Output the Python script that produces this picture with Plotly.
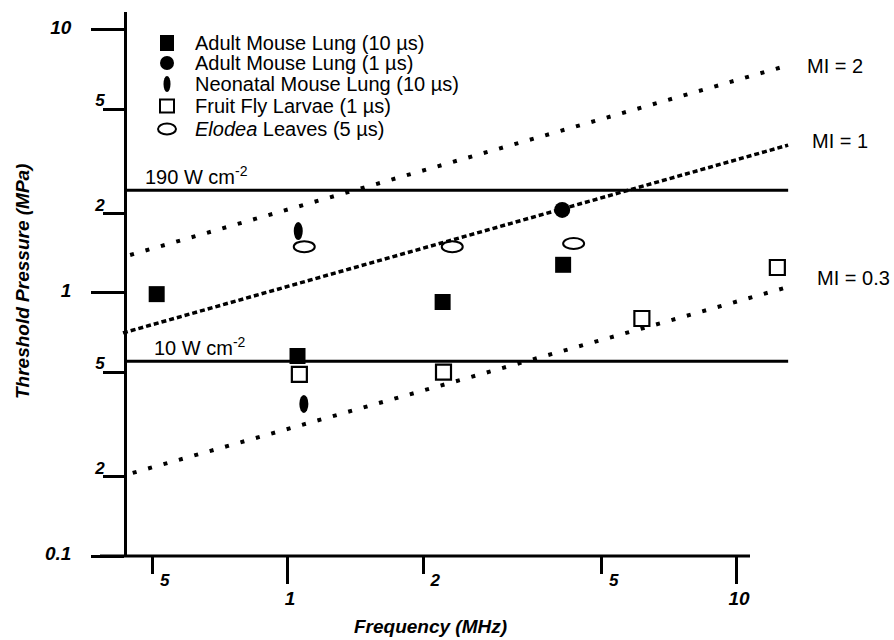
import math
import plotly.graph_objects as go

# Threshold pressure (MPa) versus frequency (MHz) for each exposure series
adult_lung_10us_freq = [0.51, 1.05, 2.21, 4.10]
adult_lung_10us_mpa = [0.99, 0.576, 0.924, 1.28]
adult_lung_1us_freq = [4.08]
adult_lung_1us_mpa = [2.07]
neonatal_lung_freq = [1.03, 1.06]
neonatal_lung_mpa = [1.59, 0.35]
fruit_fly_freq = [1.06, 2.22, 6.14, 12.3]
fruit_fly_mpa = [0.49, 0.50, 0.80, 1.25]
elodea_freq = [1.03, 2.20, 4.10]
elodea_mpa = [1.43, 1.43, 1.47]

# Reference curves: constant-intensity levels and mechanical-index lines
intensity_freq = [0.433, 13.0]
intensity_190_mpa = [2.46, 2.46]
intensity_10_mpa = [0.55, 0.55]
mi2_freq = [0.445, 12.6]
mi2_mpa = [1.395, 7.23]
mi1_freq = [0.429, 13.0]
mi1_mpa = [0.705, 3.65]
mi03_freq = [0.451, 13.0]
mi03_mpa = [0.207, 1.054]

# Axis ticks
major_y_ticks = [0.1, 1, 10]
major_y_text = ["0.1", "1", "10"]
minor_y_ticks = [0.2, 0.5, 2, 5]
minor_y_text = ["2", "5", "2", "5"]
major_x_ticks = [1, 10]
major_x_text = ["1", "10"]
minor_x_ticks = [0.5, 2, 5]
minor_x_text = ["5", "2", "5"]

legend_labels = [
    "Adult Mouse Lung (10 µs)",
    "Adult Mouse Lung (1 µs)",
    "Neonatal Mouse Lung (10 µs)",
    "Fruit Fly Larvae (1 µs)",
    "<i>Elodea</i> Leaves (5 µs)",
]

# ---- page geometry helpers ----
W, H = 894, 640
ML, MR, MT, MB = 100, 0, 12, 84
PW, PH = W - ML - MR, H - MT - MB


def px(x):
    return (x - ML) / PW


def py(y):
    return (H - MB - y) / PH


FONT = "Liberation Sans, Arial, sans-serif"
X_RANGE = [-0.4187, 1.3497]
Y_RANGE = [-1.0, 1.0684]

fig = go.Figure()

# intensity levels
for yv in (intensity_190_mpa, intensity_10_mpa):
    fig.add_trace(go.Scatter(x=intensity_freq, y=yv, mode="lines",
                             line=dict(color="black", width=3), showlegend=False,
                             hoverinfo="skip"))

# mechanical index lines
fig.add_trace(go.Scatter(x=mi2_freq, y=mi2_mpa, mode="lines",
                         line=dict(color="black", width=4, dash="4px,12px"),
                         showlegend=False))
fig.add_trace(go.Scatter(x=mi1_freq, y=mi1_mpa, mode="lines",
                         line=dict(color="black", width=3.5, dash="5px,3px"),
                         showlegend=False))
fig.add_trace(go.Scatter(x=mi03_freq, y=mi03_mpa, mode="lines",
                         line=dict(color="black", width=4, dash="4px,12px"),
                         showlegend=False))

# measured thresholds
fig.add_trace(go.Scatter(x=adult_lung_10us_freq, y=adult_lung_10us_mpa, mode="markers",
                         marker=dict(symbol="square", size=16, color="black"),
                         name=legend_labels[0], showlegend=False))
fig.add_trace(go.Scatter(x=adult_lung_1us_freq, y=adult_lung_1us_mpa, mode="markers",
                         marker=dict(symbol="circle", size=16, color="black"),
                         name=legend_labels[1], showlegend=False))
fig.add_trace(go.Scatter(x=fruit_fly_freq, y=fruit_fly_mpa, mode="markers",
                         marker=dict(symbol="square-open", size=15, color="black",
                                     line=dict(width=2.2, color="black")),
                         name=legend_labels[3], showlegend=False))

# empty traces so the secondary tick axes get drawn
fig.add_trace(go.Scatter(x=[], y=[], xaxis="x2", yaxis="y", showlegend=False,
                         hoverinfo="skip"))
fig.add_trace(go.Scatter(x=[], y=[], xaxis="x", yaxis="y2", showlegend=False,
                         hoverinfo="skip"))

shapes = []
# neonatal lung: narrow upright filled ellipses
for f, p in zip(neonatal_lung_freq, neonatal_lung_mpa):
    shapes.append(dict(type="circle", xref="x", yref="y",
                       xsizemode="pixel", ysizemode="pixel",
                       xanchor=f, yanchor=p, x0=-9, x1=9, y0=-18, y1=18,
                       fillcolor="black", line=dict(width=0)))
# Elodea leaves: open horizontal ellipses
for f, p in zip(elodea_freq, elodea_mpa):
    shapes.append(dict(type="circle", xref="x", yref="y",
                       xsizemode="pixel", ysizemode="pixel",
                       xanchor=f, yanchor=p, x0=-21, x1=21, y0=-11, y1=11,
                       fillcolor="rgba(0,0,0,0)", line=dict(width=2, color="black")))

# horizontal frequency axis line
shapes.append(dict(type="line", xref="paper", yref="paper",
                   x0=px(100), x1=px(750), y0=0, y1=0,
                   line=dict(color="black", width=3)))

# ---- key ----
key_x = 167
key_rows = [43, 63, 84, 106, 129]
key_styles = [
    dict(type="rect", x0=-7, x1=7, y0=-8, y1=8, fillcolor="black", line=dict(width=0)),
    dict(type="circle", x0=-7, x1=7, y0=-7, y1=7, fillcolor="black", line=dict(width=0)),
    dict(type="circle", x0=-3.5, x1=3.5, y0=-8, y1=8, fillcolor="black", line=dict(width=0)),
    dict(type="rect", x0=-7, x1=7, y0=-6.5, y1=6.5, fillcolor="rgba(0,0,0,0)",
         line=dict(width=2, color="black")),
    dict(type="circle", x0=-9, x1=9, y0=-5.5, y1=5.5, fillcolor="rgba(0,0,0,0)",
         line=dict(width=2, color="black")),
]
annotations = []
for row, style, label in zip(key_rows, key_styles, legend_labels):
    s = dict(style)
    s.update(xref="paper", yref="paper", xsizemode="pixel", ysizemode="pixel",
             xanchor=px(key_x), yanchor=py(row))
    shapes.append(s)
    annotations.append(dict(x=px(193), y=py(row), xref="paper", yref="paper",
                            text=label, showarrow=False, xanchor="left", yanchor="middle",
                            font=dict(family=FONT, size=20, color="black")))

# line labels
line_labels = [
    ("MI = 2", 805, 66),
    ("MI = 1", 810, 141),
    ("MI = 0.3", 815, 278),
    ("190 W cm<sup>-2</sup>", 143, 175),
    ("10 W cm<sup>-2</sup>", 152, 346),
]
for text, lx, ly in line_labels:
    annotations.append(dict(x=px(lx), y=py(ly), xref="paper", yref="paper",
                            text=text, showarrow=False, xanchor="left", yanchor="middle",
                            font=dict(family=FONT, size=20, color="black")))

# axis titles
annotations.append(dict(x=px(430), y=py(626), xref="paper", yref="paper",
                        text="Frequency (MHz)", showarrow=False,
                        xanchor="center", yanchor="middle",
                        font=dict(family=FONT, size=19, color="black",
                                  weight="bold", style="italic")))
annotations.append(dict(x=px(22), y=py(282), xref="paper", yref="paper",
                        text="Threshold Pressure (MPa)", showarrow=False, textangle=-90,
                        xanchor="center", yanchor="middle",
                        font=dict(family=FONT, size=19, color="black",
                                  weight="bold", style="italic")))

major_font = dict(family=FONT, size=19, color="black", weight="bold", style="italic")
minor_font = dict(family=FONT, size=17, color="black", weight="bold", style="italic")
y_pos = px(125)

fig.update_layout(
    width=W, height=H,
    margin=dict(l=ML, r=MR, t=MT, b=MB, pad=0),
    paper_bgcolor="white", plot_bgcolor="white",
    showlegend=False,
    shapes=shapes,
    annotations=annotations,
    xaxis=dict(type="log", range=X_RANGE, domain=[0, 1], anchor="y",
               showgrid=False, zeroline=False, showline=False,
               tickmode="array", tickvals=major_x_ticks, ticktext=major_x_text,
               ticks="outside", ticklen=27, tickwidth=2.5, tickcolor="black",
               tickfont=major_font, ticklabelshift=2, ticklabelstandoff=-2),
    xaxis2=dict(type="log", range=X_RANGE, overlaying="x", anchor="y", side="bottom",
                showgrid=False, zeroline=False, showline=False,
                tickmode="array", tickvals=minor_x_ticks, ticktext=minor_x_text,
                ticks="outside", ticklen=17, tickwidth=2.5, tickcolor="black",
                tickfont=minor_font, ticklabelshift=12, ticklabelstandoff=-8),
    yaxis=dict(type="log", range=Y_RANGE, domain=[0, 1], anchor="free", position=y_pos,
               showgrid=False, zeroline=False, showline=True, linecolor="black",
               linewidth=2.5,
               tickmode="array", tickvals=major_y_ticks, ticktext=major_y_text,
               ticks="outside", ticklen=33, tickwidth=3, tickcolor="black",
               tickfont=major_font, ticklabelshift=-3, ticklabelstandoff=16),
    yaxis2=dict(type="log", range=Y_RANGE, overlaying="y", anchor="free", position=y_pos,
                side="left", showgrid=False, zeroline=False, showline=False,
                tickmode="array", tickvals=minor_y_ticks, ticktext=minor_y_text,
                ticks="outside", ticklen=22, tickwidth=3, tickcolor="black",
                tickfont=minor_font, ticklabelshift=-9, ticklabelstandoff=-5),
)

fig.write_html("out.html")
